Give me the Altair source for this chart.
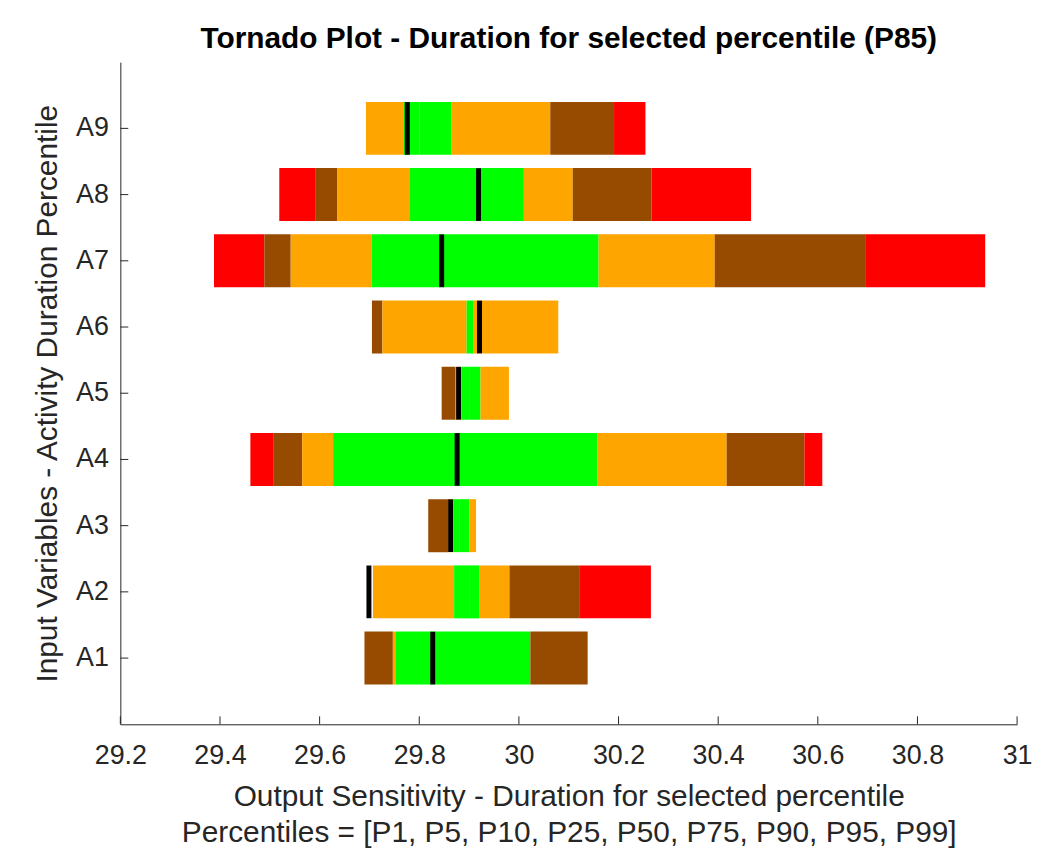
import altair as alt
import pandas as pd

# Activities (bottom to top in the picture: A1 ... A9)
activities = ["A1", "A2", "A3", "A4", "A5", "A6", "A7", "A8", "A9"]

# Output duration at each input percentile [P1, P5, P10, P25, P50, P75, P90, P95, P99]
p_A1 = [29.690, 29.690, 29.747, 29.752, 29.827, 30.023, 30.023, 30.138, 30.138]
p_A2 = [29.707, 29.707, 29.707, 29.870, 29.900, 29.920, 29.981, 30.121, 30.265]
p_A3 = [29.818, 29.818, 29.858, 29.869, 29.880, 29.901, 29.914, 29.914, 29.914]
p_A4 = [29.461, 29.508, 29.565, 29.627, 29.876, 30.158, 30.417, 30.573, 30.609]
p_A5 = [29.845, 29.845, 29.873, 29.885, 29.900, 29.923, 29.980, 29.980, 29.980]
p_A6 = [29.705, 29.705, 29.726, 29.895, 29.900, 29.908, 30.079, 30.079, 30.079]
p_A7 = [29.388, 29.489, 29.542, 29.704, 29.845, 30.160, 30.393, 30.695, 30.936]
p_A8 = [29.519, 29.591, 29.635, 29.780, 29.919, 30.010, 30.108, 30.266, 30.466]
p_A9 = [29.693, 29.693, 29.693, 29.768, 29.800, 29.864, 30.063, 30.191, 30.254]

# Base (deterministic) output value drawn as the black line
base_values = [29.827, 29.699, 29.863, 29.876, 29.879, 29.921, 29.845, 29.919, 29.776]

segment_names = ["P1-P5", "P5-P10", "P10-P25", "P25-P50",
                 "P50-P75", "P75-P90", "P90-P95", "P95-P99"]
segment_colors = ["#FF0000", "#964B00", "#FFA500", "#00FF00",
                  "#00FF00", "#FFA500", "#964B00", "#FF0000"]

x_ticks = [29.2, 29.4, 29.6, 29.8, 30.0, 30.2, 30.4, 30.6, 30.8, 31.0]

all_p = [p_A1, p_A2, p_A3, p_A4, p_A5, p_A6, p_A7, p_A8, p_A9]
rows = []
for act, pv in zip(activities, all_p):
    for i, name in enumerate(segment_names):
        rows.append({"activity": act, "segment": name, "lo": pv[i], "hi": pv[i + 1]})
seg_df = pd.DataFrame(rows)
base_df = pd.DataFrame({"activity": activities, "base": base_values})
tick_df = pd.DataFrame({"t": x_ticks})

FONT = "Liberation Sans"
AX = "#262626"
order = list(reversed(activities))
W, H = 902, 666

xscale = alt.Scale(domain=[29.2, 31.0], nice=False, zero=False)
yscale = alt.Scale(domain=order, paddingInner=0.2, paddingOuter=0.6)

bars = alt.Chart(seg_df).mark_bar(strokeWidth=0).encode(
    x=alt.X("lo:Q", scale=xscale,
            axis=alt.Axis(values=x_ticks, format="~g", tickSize=0, labelPadding=18,
                          labelFlush=False,
                          labelFont=FONT, labelFontSize=27, labelColor=AX,
                          domainColor=AX, domainWidth=1, grid=False,
                          title=["Output Sensitivity - Duration for selected percentile",
                                 "Percentiles = [P1, P5, P10, P25, P50, P75, P90, P95, P99]"],
                          titleFont=FONT, titleFontSize=30, titleFontWeight="normal",
                          titleColor=AX, titleLineHeight=36, titleBaseline="top",
                          titleY=58, titleX=W / 2, titleAlign="center")),
    x2="hi:Q",
    y=alt.Y("activity:N", scale=yscale, sort=order,
            axis=alt.Axis(tickSize=0, labelPadding=12, labelFont=FONT, labelFontSize=27,
                          labelColor=AX, domainColor=AX, domainWidth=1, grid=False,
                          title="Input Variables - Activity Duration Percentile",
                          titleFont=FONT, titleFontSize=30, titleFontWeight="normal",
                          titleColor=AX, titleBaseline="alphabetic", titleAngle=270,
                          titleX=-64, titleY=H / 2, titleAlign="center")),
    color=alt.Color("segment:N", scale=alt.Scale(domain=segment_names, range=segment_colors),
                    legend=None),
)

base_line = alt.Chart(base_df).mark_tick(color="black", thickness=5, size=53, opacity=1).encode(
    x=alt.X("base:Q", scale=xscale),
    y=alt.Y("activity:N", scale=yscale, sort=order),
)

xticks = alt.Chart(tick_df).mark_rule(color=AX, strokeWidth=1).encode(
    x=alt.X("t:Q", scale=xscale),
    y=alt.value(H),
    y2=alt.value(H - 8),
)

yticks = alt.Chart(base_df).mark_rule(color=AX, strokeWidth=1).encode(
    y=alt.Y("activity:N", scale=yscale, sort=order),
    x=alt.value(0),
    x2=alt.value(8),
)

chart = alt.layer(bars, base_line, xticks, yticks).properties(
    width=W,
    height=H,
    background="white",
    autosize=alt.AutoSizeParams(type="none"),
    padding={"left": 113, "top": 52, "right": 16, "bottom": 132},
    title=alt.TitleParams("Tornado Plot - Duration for selected percentile (P85)",
                          font=FONT, fontSize=30, fontWeight="bold", color="black",
                          anchor="middle", baseline="alphabetic", offset=10, frame="group",
                          dy=26),
).configure_view(stroke=None)

chart.save("out.html", embed_options={"renderer": "svg", "actions": False})
